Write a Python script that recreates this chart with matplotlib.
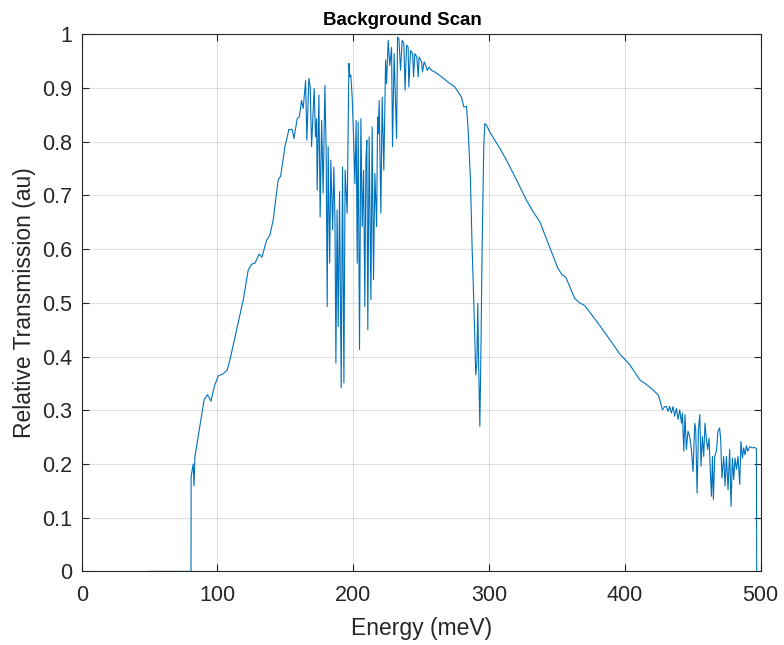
import numpy as np
import matplotlib
matplotlib.use("Agg")
import matplotlib.pyplot as plt

# energy (meV) and relative transmission
energy = [
    49.5, 80.5, 80.6, 82.1, 82.7, 83.4, 90.2, 92.7, 95.2, 97.6,
    100.6, 104.2, 107.2, 109.2, 114.1, 119.0, 122.6, 125.1, 127.6, 130.7,
    132.7, 136.2, 138.6, 141.0, 144.7, 146.5, 149.7, 152.6, 155.0, 156.3,
    158.7, 160.2, 161.9, 163.1, 164.9, 165.8, 167.3, 168.3, 169.3, 170.5,
    171.2, 172.2, 173.0, 173.4, 174.7, 175.6, 176.7, 177.8, 179.1, 180.0,
    180.8, 181.5, 182.6, 183.5, 184.8, 185.7, 186.5, 187.2, 188.1, 188.9,
    189.9, 191.1, 192.1, 193.1, 194.0, 194.9, 195.5, 196.8, 197.5, 198.2,
    199.2, 200.2, 201.2, 202.1, 202.9, 203.6, 204.6, 205.6, 206.6, 207.6,
    208.5, 209.3, 210.0, 210.7, 211.7, 213.0, 213.9, 214.9, 215.9, 217.2,
    217.9, 218.3, 219.1, 220.3, 221.3, 222.5, 223.8, 224.5, 225.7, 226.9,
    228.2, 228.9, 230.1, 231.9, 232.6, 233.6, 234.8, 236.0, 237.2, 238.2,
    239.2, 240.4, 240.9, 242.2, 243.7, 244.4, 245.3, 246.8, 247.8, 248.5,
    250.3, 251.0, 252.2, 253.4, 254.4, 255.9, 257.6, 260.1, 265.0, 269.9,
    274.8, 277.2, 279.7, 281.4, 283.4, 284.6, 286.3, 287.5, 289.0, 290.2,
    291.0, 291.7, 292.2, 293.2, 293.9, 294.9, 296.1, 296.9, 298.1, 300.6,
    304.2, 307.9, 312.8, 320.2, 327.6, 332.4, 337.4, 350.6, 353.6, 356.5,
    359.5, 363.1, 366.8, 370.5, 375.6, 381.5, 388.8, 396.2, 403.6, 410.9,
    415.9, 420.7, 424.4, 425.7, 427.7, 429.4, 430.6, 431.8, 433.0, 434.3,
    435.5, 436.7, 438.0, 439.2, 440.4, 441.7, 442.4, 443.4, 444.3, 445.3,
    446.5, 447.8, 449.0, 450.2, 451.5, 452.2, 453.2, 454.2, 455.2, 456.1,
    457.1, 458.1, 459.0, 460.1, 461.0, 462.0, 463.0, 463.8, 464.5, 465.2,
    466.2, 467.4, 468.6, 469.8, 470.6, 471.5, 472.8, 473.8, 474.8, 476.0,
    477.2, 478.2, 479.2, 480.2, 481.1, 482.2, 483.3, 484.6, 485.5, 486.6,
    487.5, 488.5, 489.5, 490.5, 492.0, 493.9, 495.6, 496.9, 497.1,
]
transmission = [
    0.0, 0.0, 0.177, 0.200, 0.159, 0.214, 0.320, 0.329, 0.317, 0.344,
    0.364, 0.368, 0.375, 0.394, 0.450, 0.506, 0.561, 0.572, 0.574, 0.591,
    0.585, 0.617, 0.626, 0.654, 0.729, 0.736, 0.791, 0.823, 0.823, 0.806,
    0.843, 0.846, 0.877, 0.862, 0.914, 0.803, 0.918, 0.902, 0.791, 0.859,
    0.899, 0.809, 0.843, 0.710, 0.887, 0.660, 0.840, 0.704, 0.905, 0.791,
    0.493, 0.791, 0.574, 0.766, 0.636, 0.753, 0.658, 0.388, 0.673, 0.456,
    0.707, 0.342, 0.753, 0.351, 0.747, 0.700, 0.667, 0.946, 0.921, 0.924,
    0.883, 0.809, 0.722, 0.840, 0.574, 0.837, 0.413, 0.843, 0.642, 0.747,
    0.493, 0.766, 0.803, 0.450, 0.809, 0.506, 0.828, 0.543, 0.741, 0.642,
    0.846, 0.815, 0.877, 0.667, 0.883, 0.747, 0.952, 0.908, 0.989, 0.942,
    0.976, 0.791, 0.964, 0.806, 0.995, 0.992, 0.933, 0.989, 0.983, 0.896,
    0.980, 0.976, 0.902, 0.970, 0.964, 0.921, 0.964, 0.958, 0.921, 0.958,
    0.949, 0.930, 0.949, 0.942, 0.933, 0.939, 0.933, 0.930, 0.921, 0.911,
    0.902, 0.893, 0.883, 0.865, 0.866, 0.822, 0.729, 0.605, 0.481, 0.366,
    0.388, 0.499, 0.406, 0.270, 0.388, 0.605, 0.791, 0.834, 0.831, 0.818,
    0.803, 0.788, 0.766, 0.729, 0.691, 0.670, 0.651, 0.565, 0.553, 0.548,
    0.530, 0.508, 0.500, 0.495, 0.478, 0.458, 0.432, 0.405, 0.385, 0.357,
    0.348, 0.338, 0.329, 0.320, 0.301, 0.307, 0.307, 0.298, 0.307, 0.295,
    0.307, 0.289, 0.304, 0.283, 0.301, 0.276, 0.295, 0.224, 0.292, 0.227,
    0.261, 0.251, 0.227, 0.186, 0.276, 0.264, 0.146, 0.264, 0.292, 0.196,
    0.251, 0.214, 0.276, 0.245, 0.227, 0.248, 0.183, 0.140, 0.214, 0.134,
    0.214, 0.224, 0.261, 0.267, 0.245, 0.174, 0.214, 0.159, 0.214, 0.152,
    0.227, 0.121, 0.211, 0.171, 0.211, 0.190, 0.214, 0.162, 0.242, 0.211,
    0.230, 0.217, 0.234, 0.224, 0.232, 0.230, 0.231, 0.228, 0.0,
]

xticks = [0, 100, 200, 300, 400, 500]
yticks = [0, 0.1, 0.2, 0.3, 0.4, 0.5, 0.6, 0.7, 0.8, 0.9, 1]
ytick_labels = ['0', '0.1', '0.2', '0.3', '0.4', '0.5', '0.6', '0.7', '0.8', '0.9', '1']

plt.rcParams['font.family'] = ['Liberation Sans', 'DejaVu Sans']
dark = '#262626'

fig = plt.figure(figsize=(7.84, 6.45), dpi=100)
ax = fig.add_axes([0.1042, 0.1141, 0.866, 0.8326])

ax.plot(energy, transmission, color='#0072BD', lw=0.8)

ax.set_xlim(0, 500)
ax.set_ylim(0, 1)
ax.set_xticks(xticks)
ax.set_yticks(yticks)
ax.set_yticklabels(ytick_labels)
ax.grid(True, color='#000000', alpha=0.12, lw=0.8)
ax.tick_params(direction='in', length=5, width=0.8, colors=dark,
               labelsize=15.5, top=True, right=True)
ax.tick_params(axis='x', pad=10)
ax.tick_params(axis='y', pad=7)
for s in ax.spines.values():
    s.set_color(dark)
    s.set_linewidth(0.8)

ax.set_xlabel('Energy (meV)', fontsize=16.5, color=dark, labelpad=8)
ax.set_ylabel('Relative Transmission (au)', fontsize=16.5, color=dark, labelpad=4)
ax.set_title('Background Scan', fontsize=13.5, fontweight='bold', color='black',
             x=0.472, pad=7)

fig.savefig('out.png', dpi=100)
